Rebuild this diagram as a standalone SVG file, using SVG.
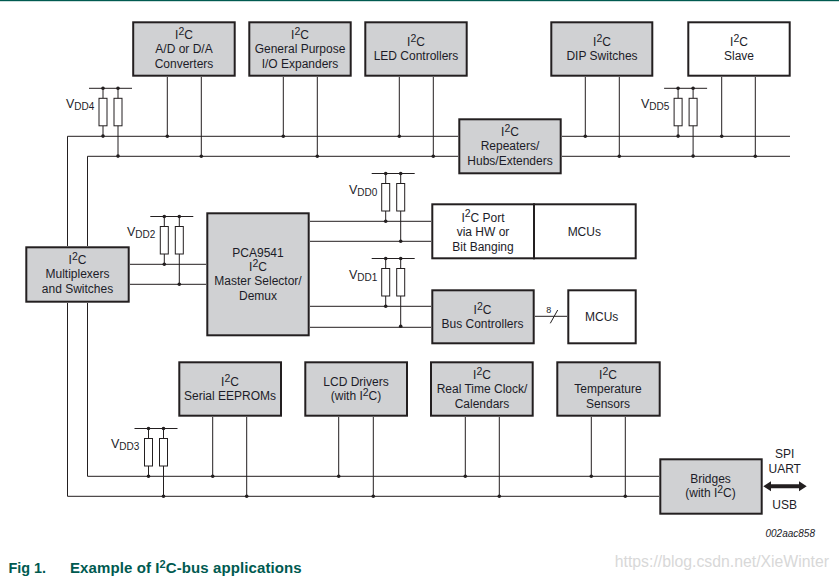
<svg xmlns="http://www.w3.org/2000/svg" width="839" height="580" viewBox="0 0 839 580">
<style>
text{font-family:"Liberation Sans",Arial,sans-serif;font-size:12px;fill:#1c1c28;text-anchor:middle}
.box{fill:#d0d1d3;stroke:#231f20;stroke-width:2}
.wbox{fill:#fff;stroke:#231f20;stroke-width:2}
.w{fill:none;stroke:#231f20;stroke-width:1}
.r{fill:#fff;stroke:#231f20;stroke-width:1}
.d{fill:#231f20}
.s{font-size:10.5px}
.v{text-anchor:start;font-size:12.5px}
.vs{font-size:10px}
.cap{font-weight:bold;font-size:15px;fill:#005a50;text-anchor:start}
</style>
<defs>
<circle id="dot" r="1.8" class="d"/>
<g id="res2">
<path class="w" d="M-21.5 0H21.5M-7.5 0V10M7.5 0V67.5M-7.5 37.5V47.5"/>
<rect class="r" x="-11.5" y="10" width="8" height="27.5"/>
<rect class="r" x="3.5" y="10" width="8" height="27.5"/>
<use href="#dot" x="-7.5" y="0"/><use href="#dot" x="7.5" y="0"/>
<use href="#dot" x="-7.5" y="47.8"/><use href="#dot" x="7.5" y="67.8"/>
</g>
</defs>
<rect x="0" y="0" width="839" height="1.2" fill="#005a50"/>

<g id="connectors">
<path class="w" d="M67.5 246V136.3H458M87.5 246V156.3H458M562 136.3H790M562 156.3H790"/>
<path class="w" d="M67.5 303V496.3H659M87.5 303V476.3H659"/>
<path class="w" d="M167.3 77V136M201.3 77V156M283.3 77V136M317.3 77V156M399.3 77V136M433.3 77V156M585.3 77V136M619.3 77V156M721.7 77V136M755.3 77V156"/>
<path class="w" d="M212.7 417V476M246.7 417V496M338.7 417V476M373.3 417V496M465.3 417V476M499.3 417V496M591.3 417V476M625.3 417V496"/>
<path class="w" d="M130 264.3H206M130 284.3H206M310 221.3H431M310 241.3H431M310 306.3H431M310 327.3H431"/>
<path class="w" d="M535 316.3H567M550.3 323.3L557.7 310"/>
<g>
<use href="#dot" x="167.3" y="136.3"/><use href="#dot" x="201.3" y="156.3"/>
<use href="#dot" x="283.3" y="136.3"/><use href="#dot" x="317.3" y="156.3"/>
<use href="#dot" x="399.3" y="136.3"/><use href="#dot" x="433.3" y="156.3"/>
<use href="#dot" x="585.3" y="136.3"/><use href="#dot" x="619.3" y="156.3"/>
<use href="#dot" x="721.7" y="136.3"/><use href="#dot" x="755.3" y="156.3"/>
<use href="#dot" x="212.7" y="476.3"/><use href="#dot" x="246.7" y="496.3"/>
<use href="#dot" x="338.7" y="476.3"/><use href="#dot" x="373.3" y="496.3"/>
<use href="#dot" x="465.3" y="476.3"/><use href="#dot" x="499.3" y="496.3"/>
<use href="#dot" x="591.3" y="476.3"/><use href="#dot" x="625.3" y="496.3"/>
</g>
<polygon class="d" points="763.3,486.3 771,481.3 771,484.3 799,484.3 799,481.3 806.7,486.3 799,491.3 799,488.3 771,488.3 771,491.3"/>
</g>

<g id="vdd4"><use href="#res2" x="110.5" y="88.3"/><text class="v" x="66" y="108">V<tspan class="vs" dy="2">DD4</tspan></text></g>
<g id="vdd2"><use href="#res2" x="171.8" y="216.5"/><text class="v" x="127" y="236">V<tspan class="vs" dy="2">DD2</tspan></text></g>
<g id="vdd0"><use href="#res2" x="393.2" y="173.5"/><text class="v" x="349" y="193.5">V<tspan class="vs" dy="2">DD0</tspan></text></g>
<g id="vdd1"><use href="#res2" x="393.2" y="258.5"/><text class="v" x="349" y="279">V<tspan class="vs" dy="2">DD1</tspan></text></g>
<g id="vdd5"><use href="#res2" x="685.6" y="88.3"/><text class="v" x="641" y="108">V<tspan class="vs" dy="2">DD5</tspan></text></g>
<g id="vdd3"><use href="#res2" x="156" y="428.5"/><text class="v" x="111" y="448">V<tspan class="vs" dy="2">DD3</tspan></text></g>

<g id="ad"><rect class="box" x="133.2" y="22.3" width="101.5" height="53.4"/>
<text x="184" y="39.3">I<tspan class="s" dy="-4.5">2</tspan><tspan dy="4.5">C</tspan></text><text x="184" y="53.3">A/D or D/A</text><text x="184" y="68">Converters</text></g>
<g id="gpio"><rect class="box" x="249.3" y="22.3" width="101.4" height="53.4"/>
<text x="300" y="39.3">I<tspan class="s" dy="-4.5">2</tspan><tspan dy="4.5">C</tspan></text><text x="300" y="53.3">General Purpose</text><text x="300" y="68">I/O Expanders</text></g>
<g id="led"><rect class="box" x="365.3" y="22.3" width="101.4" height="53.4"/>
<text x="416" y="46.3">I<tspan class="s" dy="-4.5">2</tspan><tspan dy="4.5">C</tspan></text><text x="416" y="60">LED Controllers</text></g>
<g id="dip"><rect class="box" x="551.3" y="22.3" width="101" height="53.4"/>
<text x="602" y="46.3">I<tspan class="s" dy="-4.5">2</tspan><tspan dy="4.5">C</tspan></text><text x="602" y="60">DIP Switches</text></g>
<g id="slave"><rect class="wbox" x="688.3" y="22.3" width="101.4" height="53.4"/>
<text x="739" y="46.3">I<tspan class="s" dy="-4.5">2</tspan><tspan dy="4.5">C</tspan></text><text x="739" y="60">Slave</text></g>
<g id="repeaters"><rect class="box" x="459.3" y="119.3" width="101.4" height="54"/>
<text x="510" y="136">I<tspan class="s" dy="-4.5">2</tspan><tspan dy="4.5">C</tspan></text><text x="510" y="150.3">Repeaters/</text><text x="510" y="165.3">Hubs/Extenders</text></g>
<g id="port"><rect class="wbox" x="432.3" y="204.3" width="101.7" height="54"/>
<text x="483" y="221.7">I<tspan class="s" dy="-4.5">2</tspan><tspan dy="4.5">C Port</tspan></text><text x="483" y="236">via HW or</text><text x="483" y="250.7">Bit Banging</text></g>
<g id="mcus1"><rect class="wbox" x="534" y="204.3" width="101.7" height="54"/><text x="584.3" y="236">MCUs</text></g>
<g id="busctrl"><rect class="box" x="432.3" y="290.3" width="101.4" height="53"/>
<text x="482.5" y="314.3">I<tspan class="s" dy="-4.5">2</tspan><tspan dy="4.5">C</tspan></text><text x="482.5" y="328.3">Bus Controllers</text></g>
<text x="548.7" y="313" style="font-size:9px">8</text>
<g id="mcus2"><rect class="wbox" x="568.3" y="290.3" width="67.4" height="53"/><text x="601.7" y="321">MCUs</text></g>
<g id="pca"><rect class="box" x="207.3" y="213.3" width="101.4" height="122"/>
<text x="258" y="257">PCA9541</text><text x="258" y="271">I<tspan class="s" dy="-4.5">2</tspan><tspan dy="4.5">C</tspan></text><text x="258" y="285.3">Master Selector/</text><text x="258" y="300">Demux</text></g>
<g id="mux"><rect class="box" x="26.3" y="247.3" width="102.4" height="54.4"/>
<text x="77.5" y="264.3">I<tspan class="s" dy="-4.5">2</tspan><tspan dy="4.5">C</tspan></text><text x="77.5" y="278.3">Multiplexers</text><text x="77.5" y="293.3">and Switches</text></g>
<g id="eeprom"><rect class="box" x="179.3" y="362.3" width="101.7" height="53.4"/>
<text x="230" y="386.3">I<tspan class="s" dy="-4.5">2</tspan><tspan dy="4.5">C</tspan></text><text x="230" y="400.3">Serial EEPROMs</text></g>
<g id="lcd"><rect class="box" x="305.3" y="362.3" width="101.7" height="53.4"/>
<text x="356" y="386.3">LCD Drivers</text><text x="356" y="400.3">(with I<tspan class="s" dy="-4.5">2</tspan><tspan dy="4.5">C)</tspan></text></g>
<g id="rtc"><rect class="box" x="431" y="362.3" width="101.7" height="53.4"/>
<text x="482" y="379.3">I<tspan class="s" dy="-4.5">2</tspan><tspan dy="4.5">C</tspan></text><text x="482" y="393.3">Real Time Clock/</text><text x="482" y="408.3">Calendars</text></g>
<g id="temp"><rect class="box" x="557.3" y="362.3" width="102.4" height="53.4"/>
<text x="608" y="379.3">I<tspan class="s" dy="-4.5">2</tspan><tspan dy="4.5">C</tspan></text><text x="608" y="393.3">Temperature</text><text x="608" y="408.3">Sensors</text></g>
<g id="bridges"><rect class="box" x="660.3" y="459.3" width="101.4" height="54.4"/>
<text x="710.5" y="483.3">Bridges</text><text x="710.5" y="497.3">(with I<tspan class="s" dy="-4.5">2</tspan><tspan dy="4.5">C)</tspan></text></g>
<text x="784.7" y="458">SPI</text><text x="784.7" y="473.3">UART</text><text x="784.7" y="509">USB</text>
<text x="815" y="536.7" style="font-size:10px;font-style:italic;text-anchor:end">002aac858</text>
<text x="829" y="567" style="font-size:15.8px;fill:#d8d8d8;text-anchor:end">https://blog.csdn.net/XieWinter</text>
<text class="cap" x="8.5" y="573" style="font-size:14.4px">Fig 1.</text>
<text class="cap" x="70" y="573" style="letter-spacing:.1px">Example of I<tspan dy="-5" style="font-size:11px">2</tspan><tspan dy="5">C-bus applications</tspan></text>
</svg>
